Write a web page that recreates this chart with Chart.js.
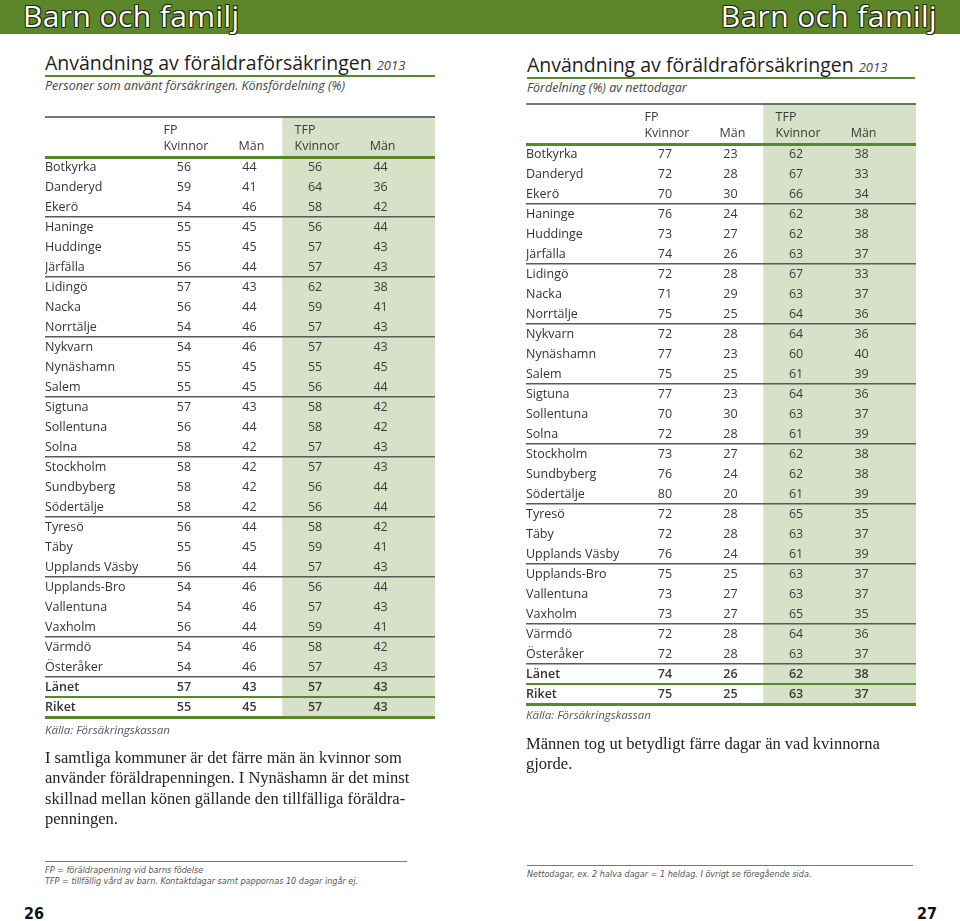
<!DOCTYPE html>
<html lang="sv">
<head>
<meta charset="utf-8">
<title>Användning av föräldraförsäkringen 2013</title>
<script src="https://cdn.jsdelivr.net/npm/chart.js@4.4.1/dist/chart.umd.min.js"></script>
<style>
  html, body { margin: 0; padding: 0; background: #fff; }
  body { width: 960px; height: 921px; position: relative; overflow: hidden; font-family: "Open Sans", sans-serif; color: #222; }
  .abs { position: absolute; white-space: nowrap; }
  .topbar { position: absolute; left: 0; top: 0; width: 960px; height: 34px; background: #5c862a; }
  .topbar span { position: absolute; top: -5px; font-size: 30px; line-height: 42px; color: #fff; letter-spacing: 0.4px;
    text-shadow: -1px -1px 0 #1e2a10, 1px -1px 0 #1e2a10, -1px 1px 0 #1e2a10, 1px 1px 0 #1e2a10; }
  .title { font-size: 19.5px; line-height: 24px; color: #1e1e1e; }
  .title i { font-size: 13px; color: #444; }
  .rule { position: absolute; height: 2px; background: #5c862a; }
  .sub { font-style: italic; font-size: 12.5px; line-height: 16px; color: #444; }
  .tbl { position: absolute; width: 390px; height: 611px; }
  .kalla { font-style: italic; font-size: 11.5px; line-height: 16px; color: #555; }
  .text { font-family: "Liberation Serif", serif; font-size: 16.5px; line-height: 20.3px; color: #222; }
  .fn-rule { position: absolute; height: 1px; background: #777; }
  .fn { font-family: "Liberation Sans Narrow", "DejaVu Sans Condensed", sans-serif; font-style: italic; font-size: 9px; line-height: 11px; color: #555; }
  .page { font-family: "Liberation Sans Narrow", "DejaVu Sans Condensed", sans-serif; font-weight: bold; font-size: 16px; line-height: 20px; color: #111; }
</style>
</head>
<body>
<div class="topbar">
  <span style="left:23px">Barn och familj</span>
  <span style="right:23px">Barn och familj</span>
</div>

<!-- vänster sida -->
<div class="abs title" style="left:45px;top:51px">Användning av föräldraförsäkringen <i>2013</i></div>
<div class="rule" style="left:45px;top:75px;width:390px"></div>
<div class="abs sub" style="left:45px;top:78px">Personer som använt försäkringen. Könsfördelning (%)</div>
<div class="tbl" style="left:45px;top:116px"><canvas id="personerChart"></canvas></div>
<div class="abs kalla" style="left:45px;top:722px">Källa: Försäkringskassan</div>
<div class="abs text" style="left:45px;top:748px">I samtliga kommuner är det färre män än kvinnor som<br>använder föräldrapenningen. I Nynäshamn är det minst<br>skillnad mellan könen gällande den tillfälliga föräldra-<br>penningen.</div>
<div class="fn-rule" style="left:45px;top:861px;width:362px"></div>
<div class="abs fn" style="left:45px;top:865px">FP = föräldrapenning vid barns födelse<br>TFP = tillfällig vård av barn. Kontaktdagar samt pappornas 10 dagar ingår ej.</div>
<div class="abs page" style="left:24px;top:904px">26</div>

<!-- höger sida -->
<div class="abs title" style="left:527px;top:53px">Användning av föräldraförsäkringen <i>2013</i></div>
<div class="rule" style="left:527px;top:77px;width:388px"></div>
<div class="abs sub" style="left:527px;top:80px">Fördelning (%) av nettodagar</div>
<div class="tbl" style="left:526px;top:103px"><canvas id="dagarChart"></canvas></div>
<div class="abs kalla" style="left:526px;top:707px">Källa: Försäkringskassan</div>
<div class="abs text" style="left:526px;top:734px">Männen tog ut betydligt färre dagar än vad kvinnorna<br>gjorde.</div>
<div class="fn-rule" style="left:527px;top:865px;width:386px"></div>
<div class="abs fn" style="left:527px;top:869px">Nettodagar, ex. 2 halva dagar = 1 heldag. I övrigt se föregående sida.</div>
<div class="abs page" style="right:23px;top:904px">27</div>

<script>
// Rader
const kommuner = ['Botkyrka', 'Danderyd', 'Ekerö', 'Haninge', 'Huddinge', 'Järfälla', 'Lidingö', 'Nacka',
    'Norrtälje', 'Nykvarn', 'Nynäshamn', 'Salem', 'Sigtuna', 'Sollentuna', 'Solna', 'Stockholm',
    'Sundbyberg', 'Södertälje', 'Tyresö', 'Täby', 'Upplands Väsby', 'Upplands-Bro', 'Vallentuna',
    'Vaxholm', 'Värmdö', 'Österåker', 'Länet', 'Riket'];
const antalKommuner = 26;

// Kolumnrubriker
const kolumnGrupper = ['FP', '', 'TFP', ''];
const kolumnNamn = ['Kvinnor', 'Män', 'Kvinnor', 'Män'];

// Personer som använt försäkringen (%)
const fpKvinnorPersoner = [56, 59, 54, 55, 55, 56, 57, 56, 54, 54, 55, 55, 57, 56, 58, 58, 58, 58, 56, 55, 56, 54, 54, 56, 54, 54, 57, 55];
const fpManPersoner     = [44, 41, 46, 45, 45, 44, 43, 44, 46, 46, 45, 45, 43, 44, 42, 42, 42, 42, 44, 45, 44, 46, 46, 44, 46, 46, 43, 45];
const tfpKvinnorPersoner = [56, 64, 58, 56, 57, 57, 62, 59, 57, 57, 55, 56, 58, 58, 57, 57, 56, 56, 58, 59, 57, 56, 57, 59, 58, 57, 57, 57];
const tfpManPersoner     = [44, 36, 42, 44, 43, 43, 38, 41, 43, 43, 45, 44, 42, 42, 43, 43, 44, 44, 42, 41, 43, 44, 43, 41, 42, 43, 43, 43];

// Fördelning av nettodagar (%)
const fpKvinnorDagar = [77, 72, 70, 76, 73, 74, 72, 71, 75, 72, 77, 75, 77, 70, 72, 73, 76, 80, 72, 72, 76, 75, 73, 73, 72, 72, 74, 75];
const fpManDagar     = [23, 28, 30, 24, 27, 26, 28, 29, 25, 28, 23, 25, 23, 30, 28, 27, 24, 20, 28, 28, 24, 25, 27, 27, 28, 28, 26, 25];
const tfpKvinnorDagar = [62, 67, 66, 62, 62, 63, 67, 63, 64, 64, 60, 61, 64, 63, 61, 62, 62, 61, 65, 63, 61, 63, 63, 65, 64, 63, 62, 63];
const tfpManDagar     = [38, 33, 34, 38, 38, 37, 33, 37, 36, 36, 40, 39, 36, 37, 39, 38, 38, 39, 35, 37, 39, 37, 37, 35, 36, 37, 38, 37];

const GREEN = '#5c862a';
const SHADE = '#d7e1c7';
const GRAY_LINE = '#5a5a5a';
const FONT = '"Open Sans", sans-serif';

// Text i cellerna, kolumnrubriker och skuggning av TFP-kolumnerna
const tableText = {
    id: 'tableText',
    beforeDraw(chart) {
        const { ctx, chartArea, scales: { x } } = chart;
        const left = x.getPixelForValue(2.5);
        ctx.save();
        ctx.fillStyle = SHADE;
        ctx.fillRect(left, 0, chartArea.right - left, chartArea.bottom + 1);
        ctx.restore();
    },
    afterDatasetsDraw(chart) {
        const { ctx, chartArea, scales: { x } } = chart;
        ctx.save();
        ctx.textAlign = 'center';
        ctx.textBaseline = 'middle';
        ctx.fillStyle = '#3a3a3a';
        chart.data.datasets.forEach((ds, di) => {
            const meta = chart.getDatasetMeta(di);
            meta.data.forEach((pt, i) => {
                ctx.font = (i >= antalKommuner ? '600 ' : '400 ') + '12.5px ' + FONT;
                ctx.fillText(String(ds.data[i].v), pt.x, pt.y);
            });
        });

        ctx.font = '400 12.5px ' + FONT;
        kolumnNamn.forEach((namn, c) => {
            const px = x.getPixelForValue(c + 1);
            const w = ctx.measureText(namn).width;
            ctx.textAlign = 'center';
            ctx.fillText(namn, px + 2, chartArea.top - 11);
            if (kolumnGrupper[c]) {
                ctx.textAlign = 'left';
                ctx.fillText(kolumnGrupper[c], px + 2 - w / 2, chartArea.top - 27);
            }
        });

        // linje överst
        ctx.strokeStyle = '#4a4a4a';
        ctx.lineWidth = 1.5;
        ctx.beginPath();
        ctx.moveTo(chartArea.left, 1);
        ctx.lineTo(chartArea.right, 1);
        ctx.stroke();
        ctx.restore();
    }
};

function lineColor(ctx) {
    const i = ctx.index;
    if (i === undefined || i === 0 || i === antalKommuner + 1) return GREEN;
    if (i === antalKommuner || i % 3 === 0) return GRAY_LINE;
    return 'rgba(0,0,0,0)';
}

function lineWidth(ctx) {
    const i = ctx.index;
    if (i === undefined || i === 0) return 3;
    if (i === antalKommuner + 1) return 2;
    return 1.5;
}

function makeTable(canvasId, kolumner) {
    const datasets = kolumner.map((values, c) => ({
        label: kolumnGrupper[c] + ' ' + kolumnNamn[c],
        data: values.map((v, i) => ({ x: c + 1, y: kommuner[i], v: v })),
        pointRadius: 0,
        pointHoverRadius: 0,
        showLine: false
    }));

    return new Chart(document.getElementById(canvasId), {
        type: 'scatter',
        data: { labels: kommuner, datasets: datasets },
        options: {
            responsive: true,
            maintainAspectRatio: false,
            animation: false,
            layout: { padding: { top: 41, bottom: 10, left: 0, right: 0 } },
            plugins: {
                legend: { display: false },
                tooltip: { enabled: false }
            },
            scales: {
                x: {
                    type: 'linear',
                    min: -1.12,
                    max: 4.83,
                    display: false
                },
                y: {
                    type: 'category',
                    offset: true,
                    border: { display: false },
                    grid: {
                        offset: true,
                        drawTicks: false,
                        color: lineColor,
                        lineWidth: lineWidth
                    },
                    ticks: {
                        mirror: true,
                        padding: 0,
                        autoSkip: false,
                        color: '#333',
                        font: (ctx) => ({
                            family: FONT,
                            size: 12.5,
                            weight: ctx.index >= antalKommuner ? '600' : '400'
                        })
                    }
                }
            }
        },
        plugins: [tableText]
    });
}

makeTable('personerChart', [fpKvinnorPersoner, fpManPersoner, tfpKvinnorPersoner, tfpManPersoner]);
makeTable('dagarChart', [fpKvinnorDagar, fpManDagar, tfpKvinnorDagar, tfpManDagar]);
</script>
</body>
</html>
